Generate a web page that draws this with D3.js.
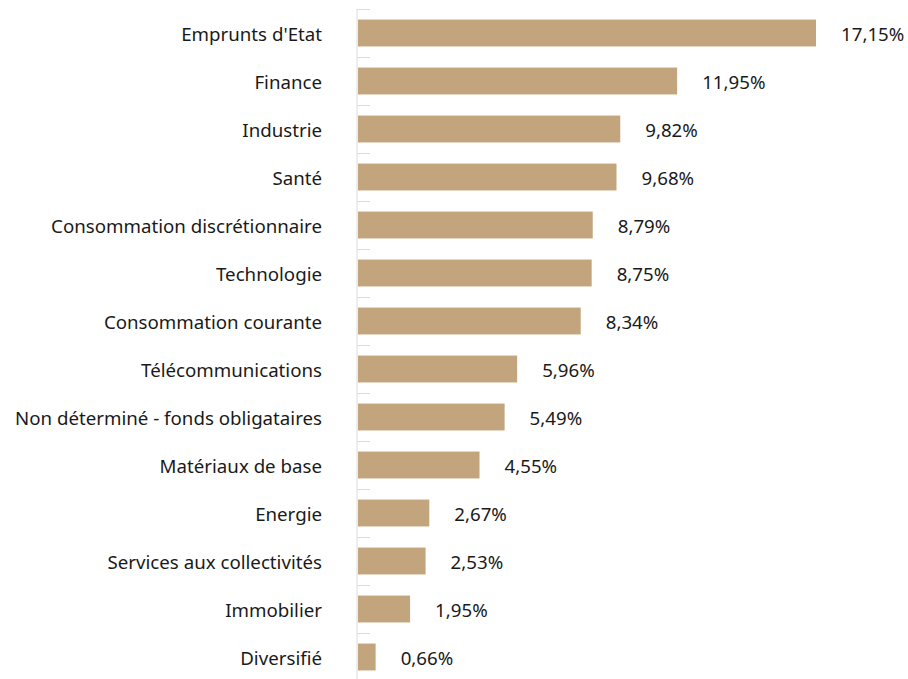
<!DOCTYPE html>
<html>
<head>
<meta charset="utf-8">
<script src="https://cdn.jsdelivr.net/npm/d3@7"></script>
<style>
  body { margin: 0; background: #fff; }
  text { font-family: "Noto Sans", sans-serif; fill: #1a1a1a; }
</style>
</head>
<body>
<div id="chart"></div>
<script>
var categories = ["Emprunts d'Etat", "Finance", "Industrie", "Santé",
    "Consommation discrétionnaire", "Technologie", "Consommation courante",
    "Télécommunications", "Non déterminé - fonds obligataires",
    "Matériaux de base", "Energie", "Services aux collectivités",
    "Immobilier", "Diversifié"];
var values = [17.15, 11.95, 9.82, 9.68, 8.79, 8.75, 8.34, 5.96, 5.49, 4.55, 2.67, 2.53, 1.95, 0.66];

var margin = {top: 9, right: 20, bottom: 0, left: 357},
    width = 908 - margin.left - margin.right,
    height = 681 - margin.top - margin.bottom;

var svg = d3.select("#chart").append("svg")
    .attr("width", 908)
    .attr("height", 679)
    .append("g")
    .attr("transform", "translate(" + margin.left + "," + margin.top + ")");

var x = d3.scaleLinear()
    .domain([0, 17.15])
    .range([1, 459]);

var y = d3.scaleBand()
    .domain(categories)
    .range([0, height])
    .paddingInner(0.44)
    .paddingOuter(0.22);

// axis line + ticks between bands
svg.append("line")
    .attr("x1", 0).attr("x2", 0)
    .attr("y1", 0).attr("y2", height)
    .style("stroke", "#dcdcdc")
    .style("stroke-width", 1);

var step = y.step();
svg.selectAll(".tick-line")
    .data(d3.range(categories.length))
    .enter()
    .append("line")
    .attr("class", "tick-line")
    .attr("x1", 0).attr("x2", 13)
    .attr("y1", function(i) { return i * step + 0.5; })
    .attr("y2", function(i) { return i * step + 0.5; })
    .style("stroke", "#dcdcdc")
    .style("stroke-width", 1);

svg.selectAll("rect")
    .data(values)
    .enter()
    .append("rect")
    .attr("x", x(0))
    .attr("y", function(d, i) { return y(categories[i]); })
    .attr("width", function(d) { return x(d) - x(0); })
    .attr("height", y.bandwidth())
    .style("fill", "#c3a57d");

// category labels
svg.selectAll(".cat")
    .data(categories)
    .enter()
    .append("text")
    .attr("class", "cat")
    .attr("x", -35)
    .attr("y", function(d) { return y(d) + y.bandwidth() / 2 + 1; })
    .attr("dy", "0.35em")
    .attr("text-anchor", "end")
    .style("font-size", "18.7px")
    .text(function(d) { return d; });

// value labels
svg.selectAll(".val")
    .data(values)
    .enter()
    .append("text")
    .attr("class", "val")
    .attr("x", function(d) { return x(d) + 25; })
    .attr("y", function(d, i) { return y(categories[i]) + y.bandwidth() / 2 + 1; })
    .attr("dy", "0.35em")
    .style("font-size", "18.7px")
    .text(function(d) { return d.toFixed(2).replace(".", ",") + "%"; });
</script>
</body>
</html>
